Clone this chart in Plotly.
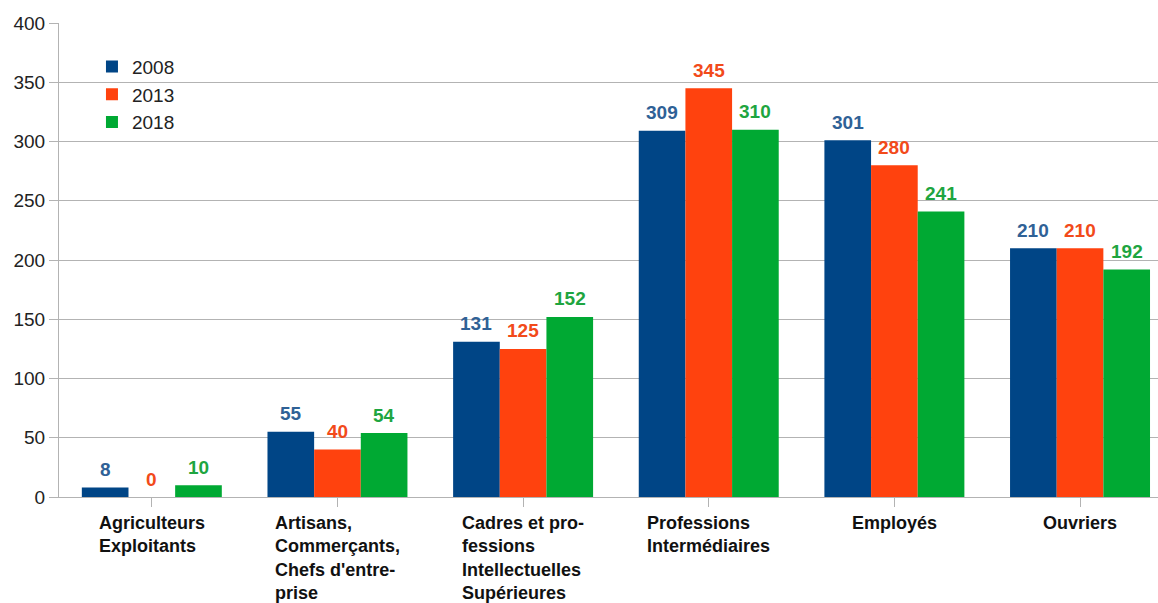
import plotly.graph_objects as go

categories = ["Agriculteurs Exploitants", "Artisans, Commerçants, Chefs d'entreprise",
              "Cadres et professions Intellectuelles Supérieures", "Professions Intermédiaires",
              "Employés", "Ouvriers"]
category_labels = ["Agriculteurs<br>Exploitants",
                   "Artisans,<br>Commerçants,<br>Chefs d'entre-<br>prise",
                   "Cadres et pro-<br>fessions<br>Intellectuelles<br>Supérieures",
                   "Professions<br>Intermédiaires",
                   "Employés",
                   "Ouvriers"]
years = ["2008", "2013", "2018"]
values_2008 = [8, 55, 131, 309, 301, 210]
values_2013 = [0, 40, 125, 345, 280, 210]
values_2018 = [10, 54, 152, 310, 241, 192]
y_ticks = [0, 50, 100, 150, 200, 250, 300, 350, 400]

series = [values_2008, values_2013, values_2018]
colors = ["#004586", "#ff420e", "#00a933"]
label_colors = ["#2f6196", "#f24a1a", "#1ea540"]
FONT = "Liberation Sans, Arial, sans-serif"

fig = go.Figure()
xi = list(range(len(categories)))
for name, vals, col in zip(years, series, colors):
    fig.add_trace(go.Bar(x=xi, y=vals, name=name, marker=dict(color=col, line=dict(width=0))))

annotations = []
bar_px = 46.7
for k, (vals, lc) in enumerate(zip(series, label_colors)):
    for i, v in enumerate(vals):
        annotations.append(dict(x=i, y=v, xref="x", yref="y", text=str(v), showarrow=False,
                                xshift=(k - 1) * bar_px, yshift=18, yanchor="middle",
                                font=dict(family=FONT, size=19, color=lc, weight="bold")))
for i, lab in enumerate(category_labels):
    annotations.append(dict(x=i, y=-0.03, xref="x", yref="paper", text="<b>" + lab + "</b>",
                            showarrow=False, align="left", xanchor="center", yanchor="top",
                            font=dict(family=FONT, size=18, color="#111111")))

fig.update_layout(
    width=1158, height=603,
    margin=dict(l=59, r=0, t=23, b=106),
    paper_bgcolor="white", plot_bgcolor="white",
    barmode="group", bargap=0.246, bargroupgap=0,
    font=dict(family=FONT, size=18, color="#222222"),
    showlegend=True,
    legend=dict(x=0.030, y=0.948, xanchor="left", yanchor="top", bgcolor="rgba(0,0,0,0)",
                font=dict(family=FONT, size=19, color="#222222"), itemwidth=30, tracegroupgap=0),
    annotations=annotations,
    xaxis=dict(range=[-0.5, 5.42], tickmode="array", tickvals=xi, showticklabels=False,
               tickson="boundaries", ticks="outside", ticklen=9, tickcolor="#b3b3b3",
               showline=True, linecolor="#b3b3b3", linewidth=1, showgrid=False, fixedrange=True),
    yaxis=dict(range=[0, 400], tickmode="array", tickvals=y_ticks, ticks="outside", ticklen=9,
               tickcolor="#b3b3b3", showgrid=True, gridcolor="#b3b3b3", gridwidth=1,
               showline=True, linecolor="#b3b3b3", zeroline=False,
               tickfont=dict(family=FONT, size=19, color="#222222")),
)

fig.write_html("out.html")
